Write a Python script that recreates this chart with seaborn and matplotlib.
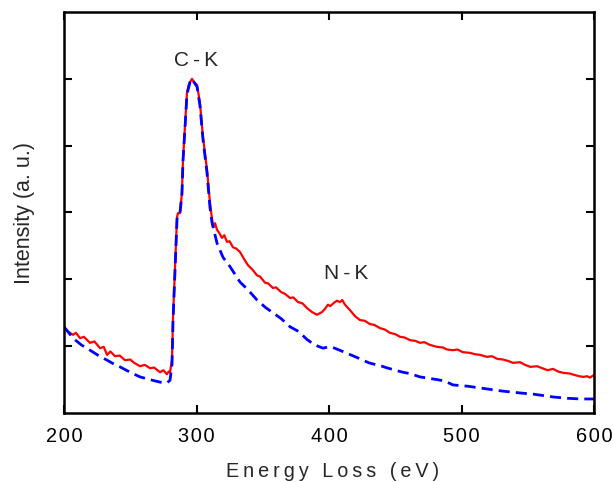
import matplotlib
matplotlib.use("Agg")
import matplotlib.pyplot as plt
import seaborn as sns
import pandas as pd
from matplotlib.ticker import FixedLocator, FuncFormatter

# ---- data: (energy loss eV, intensity a.u.) ----
red_points = [
    (200, 1.27), (203, 1.22), (206.8, 1.17), (209, 1.20), (212.1, 1.12), (215, 1.14),
    (219.6, 1.05), (223, 1.07), (227.2, 0.97), (230, 0.99), (232.5, 0.87), (235, 0.92),
    (238.5, 0.85), (242, 0.86), (246, 0.79), (250, 0.80), (253, 0.75), (257.4, 0.70),
    (261, 0.72), (265, 0.67), (268, 0.68), (272.5, 0.61), (275, 0.64), (277.7, 0.58),
    (279, 0.62), (280, 0.61), (281.5, 0.79), (282.3, 1.44), (283.8, 2.18), (285.3, 2.93),
    (286, 2.99), (287.5, 2.99), (289, 3.29), (289.8, 3.79), (291.3, 4.28), (292.8, 4.79),
    (294, 4.90), (295.1, 4.95), (296.6, 5.00), (298.1, 4.95), (300.4, 4.91), (302.6, 4.64),
    (304.9, 4.13), (307.9, 3.64), (310.2, 3.14), (312.5, 2.78), (314, 2.84), (315.5, 2.74),
    (317, 2.70), (319.2, 2.62), (321, 2.66), (323, 2.56), (325, 2.57), (327.5, 2.48),
    (330, 2.46), (332.8, 2.41), (336, 2.30), (338.9, 2.21), (342, 2.15), (345.7, 2.06),
    (348, 2.04), (351.7, 1.95), (354, 1.94), (357.7, 1.87), (360, 1.88), (363.8, 1.81),
    (367, 1.78), (370.6, 1.72), (373, 1.73), (376.6, 1.66), (380, 1.64), (383.4, 1.57),
    (387.2, 1.51), (390.9, 1.47), (394.7, 1.51), (397, 1.56), (399.2, 1.62), (401, 1.60),
    (403.8, 1.65), (406, 1.68), (408.3, 1.66), (410, 1.69), (412.1, 1.62), (415.8, 1.54),
    (419.6, 1.45), (423.4, 1.39), (427, 1.38), (430.9, 1.33), (434, 1.32), (438.5, 1.27),
    (442, 1.25), (446, 1.20), (450, 1.18), (453.6, 1.14), (457, 1.13), (461.1, 1.09),
    (465, 1.08), (468.7, 1.05), (472, 1.06), (476, 1.02), (481.5, 0.99), (486, 0.98),
    (489, 0.95), (493.6, 0.94), (497, 0.95), (501, 0.91), (506.4, 0.90), (510, 0.88),
    (514, 0.87), (519.2, 0.84), (523, 0.85), (527, 0.81), (531.3, 0.80), (535, 0.78),
    (539, 0.75), (544.2, 0.76), (548, 0.72), (552, 0.69), (557, 0.70), (561, 0.67),
    (565, 0.64), (569.1, 0.66), (573, 0.62), (577, 0.60), (581.9, 0.59), (585, 0.57),
    (589, 0.55), (592, 0.54), (594.7, 0.55), (597, 0.53), (600, 0.57),
]
blue_points = [
    (200, 1.29), (206.8, 1.12), (213, 1.02), (219.6, 0.94), (226, 0.86), (232.5, 0.79),
    (237, 0.74), (242.3, 0.69), (247, 0.64), (252, 0.59), (257.4, 0.54), (263, 0.51),
    (268.7, 0.48), (273, 0.46), (277.7, 0.45), (280, 0.49), (281.5, 0.72), (282.3, 1.39),
    (283.8, 2.14), (285.3, 2.90), (286, 2.97), (287.5, 2.99), (289, 3.27), (289.8, 3.77),
    (291.3, 4.26), (292.8, 4.77), (295.1, 4.95), (296.6, 5.00), (298.1, 4.95), (300.4, 4.88),
    (302.6, 4.60), (304.9, 4.09), (307.9, 3.60), (310.2, 3.07), (311.7, 2.85), (315.5, 2.54),
    (320, 2.33), (325.3, 2.19), (332.8, 1.96), (339, 1.84), (345.7, 1.69), (352, 1.58),
    (357.7, 1.50), (364, 1.41), (370.6, 1.29), (377, 1.22), (383.4, 1.10), (389, 1.02),
    (395.5, 0.97), (400, 0.99), (403, 0.98), (408, 0.94), (412.8, 0.90), (420, 0.84),
    (430.2, 0.75), (440, 0.70), (443, 0.68), (450, 0.64), (455.8, 0.61), (461, 0.59),
    (468.7, 0.54), (475, 0.52), (481.5, 0.50), (487, 0.48), (493.6, 0.42), (505, 0.40),
    (519.2, 0.36), (530, 0.33), (544.2, 0.30), (555, 0.28), (569.1, 0.24), (580, 0.22),
    (590, 0.21), (600, 0.21),
]
x_ticks = [200, 300, 400, 500, 600]
y_ticks = [1, 2, 3, 4, 5]
peak_labels = ["C-K", "N-K"]
peak_pos = [(299.6, 5.28), (413.2, 2.09)]


def spaced(s, sp="\u2009"):
    return sp.join(list(s))


sns.set_style("ticks")
plt.rcParams["font.family"] = ["Liberation Sans", "DejaVu Sans"]

fig = plt.figure(figsize=(6.13, 4.82), dpi=100)
ax = fig.add_axes([64 / 613, 69 / 482, 530 / 613, 401 / 482])

df_red = pd.DataFrame(red_points, columns=["x", "y"])
df_blue = pd.DataFrame(blue_points, columns=["x", "y"])
sns.lineplot(data=df_red, x="x", y="y", ax=ax, color="#ff0000", linewidth=1.6,
             estimator=None, sort=False)
sns.lineplot(data=df_blue, x="x", y="y", ax=ax, color="#0000ff", linewidth=2.0,
             estimator=None, sort=False, linestyle=(0, (4, 2.2)))

ax.set_xlim(200, 600)
ax.set_ylim(0, 6)
ax.xaxis.set_major_locator(FixedLocator(x_ticks))
ax.yaxis.set_major_locator(FixedLocator(y_ticks))
ax.xaxis.set_major_formatter(FuncFormatter(lambda v, p: spaced(f"{int(v)}", "\u200a")))
ax.set_yticklabels([])
ax.tick_params(direction="in", length=6, width=1.5, top=True, right=True,
               labelsize=14.4, pad=10, colors="black")
for s in ax.spines.values():
    s.set_linewidth(1.8)
    s.set_color("black")

ax.set_xlabel(spaced("Energy Loss (eV)", "\u2009"), fontsize=14.2)
ax.xaxis.set_label_coords(0.507, -0.122)
ax.set_ylabel("Intensity (a. u.)", fontsize=15.5)
ax.yaxis.set_label_coords(-0.055, 0.5)

for lab, (px, py) in zip(peak_labels, peak_pos):
    ax.text(px, py, spaced(lab), fontsize=15, ha="center", va="center")

fig.savefig("out.png", dpi=100)
